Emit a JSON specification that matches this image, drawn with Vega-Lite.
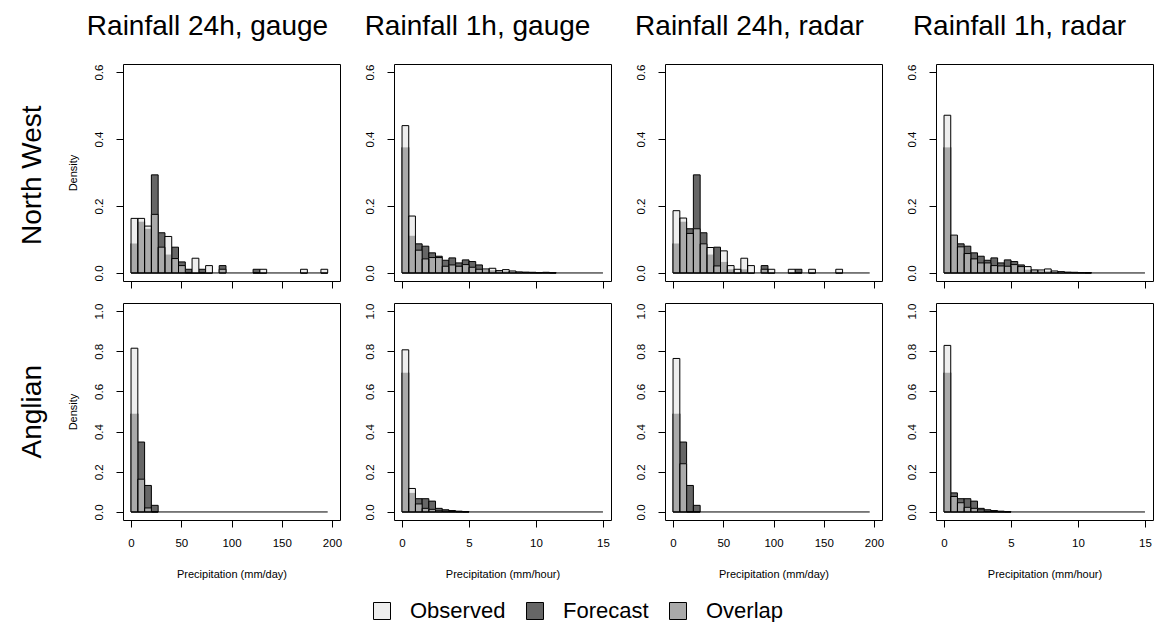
{
"$schema": "https://vega.github.io/schema/vega-lite/v6.json",
"padding": {"left": 18, "top": 12, "right": 2, "bottom": 0},
"datasets": {
"h": [
{"p":"NW24g","x0":0,"x1":6.75,"o":0.163,"f":0.088,"v":0.088},
{"p":"NW24g","x0":6.75,"x1":13.5,"o":0.163,"f":0.153,"v":0.153},
{"p":"NW24g","x0":13.5,"x1":20.25,"o":0.14,"f":0.132,"v":0.132},
{"p":"NW24g","x0":20.25,"x1":27,"o":0.175,"f":0.293,"v":0.175},
{"p":"NW24g","x0":27,"x1":33.75,"o":0.077,"f":0.12,"v":0.077},
{"p":"NW24g","x0":33.75,"x1":40.5,"o":0.109,"f":0.055,"v":0.055},
{"p":"NW24g","x0":40.5,"x1":47.25,"o":0.043,"f":0.077,"v":0.043},
{"p":"NW24g","x0":47.25,"x1":54,"o":0.022,"f":0.033,"v":0.022},
{"p":"NW24g","x0":54,"x1":60.75,"o":0,"f":0.011,"v":0},
{"p":"NW24g","x0":60.75,"x1":67.5,"o":0.044,"f":0,"v":0},
{"p":"NW24g","x0":67.5,"x1":74.25,"o":0,"f":0.011,"v":0},
{"p":"NW24g","x0":74.25,"x1":81,"o":0.022,"f":0,"v":0},
{"p":"NW24g","x0":87.75,"x1":94.5,"o":0.011,"f":0.022,"v":0.011},
{"p":"NW24g","x0":121.5,"x1":128.25,"o":0,"f":0.011,"v":0},
{"p":"NW24g","x0":128.25,"x1":135,"o":0.011,"f":0,"v":0},
{"p":"NW24g","x0":168.75,"x1":175.5,"o":0.011,"f":0,"v":0},
{"p":"NW24g","x0":189,"x1":195.75,"o":0.011,"f":0,"v":0},
{"p":"NW24r","x0":0,"x1":6.75,"o":0.186,"f":0.088,"v":0.088},
{"p":"NW24r","x0":6.75,"x1":13.5,"o":0.164,"f":0.153,"v":0.153},
{"p":"NW24r","x0":13.5,"x1":20.25,"o":0.118,"f":0.132,"v":0.118},
{"p":"NW24r","x0":20.25,"x1":27,"o":0.132,"f":0.293,"v":0.132},
{"p":"NW24r","x0":27,"x1":33.75,"o":0.087,"f":0.12,"v":0.087},
{"p":"NW24r","x0":33.75,"x1":40.5,"o":0.076,"f":0.055,"v":0.055},
{"p":"NW24r","x0":40.5,"x1":47.25,"o":0.021,"f":0.077,"v":0.021},
{"p":"NW24r","x0":47.25,"x1":54,"o":0.066,"f":0.033,"v":0.033},
{"p":"NW24r","x0":54,"x1":60.75,"o":0.022,"f":0.011,"v":0.011},
{"p":"NW24r","x0":60.75,"x1":67.5,"o":0.011,"f":0,"v":0},
{"p":"NW24r","x0":67.5,"x1":74.25,"o":0.044,"f":0.011,"v":0.011},
{"p":"NW24r","x0":74.25,"x1":81,"o":0.022,"f":0,"v":0},
{"p":"NW24r","x0":87.75,"x1":94.5,"o":0.011,"f":0.022,"v":0.011},
{"p":"NW24r","x0":94.5,"x1":101.25,"o":0.011,"f":0,"v":0},
{"p":"NW24r","x0":114.75,"x1":121.5,"o":0.011,"f":0,"v":0},
{"p":"NW24r","x0":121.5,"x1":128.25,"o":0,"f":0.011,"v":0},
{"p":"NW24r","x0":135,"x1":141.75,"o":0.011,"f":0,"v":0},
{"p":"NW24r","x0":162,"x1":168.75,"o":0.011,"f":0,"v":0},
{"p":"NW1g","x0":0,"x1":0.5,"o":0.44,"f":0.375,"v":0.375},
{"p":"NW1g","x0":0.5,"x1":1,"o":0.17,"f":0.111,"v":0.111},
{"p":"NW1g","x0":1,"x1":1.5,"o":0.068,"f":0.087,"v":0.068},
{"p":"NW1g","x0":1.5,"x1":2,"o":0.042,"f":0.08,"v":0.042},
{"p":"NW1g","x0":2,"x1":2.5,"o":0.046,"f":0.06,"v":0.046},
{"p":"NW1g","x0":2.5,"x1":3,"o":0.046,"f":0.05,"v":0.046},
{"p":"NW1g","x0":3,"x1":3.5,"o":0.02,"f":0.038,"v":0.02},
{"p":"NW1g","x0":3.5,"x1":4,"o":0.024,"f":0.045,"v":0.024},
{"p":"NW1g","x0":4,"x1":4.5,"o":0.02,"f":0.03,"v":0.02},
{"p":"NW1g","x0":4.5,"x1":5,"o":0.025,"f":0.039,"v":0.025},
{"p":"NW1g","x0":5,"x1":5.5,"o":0.017,"f":0.034,"v":0.017},
{"p":"NW1g","x0":5.5,"x1":6,"o":0.011,"f":0.024,"v":0.011},
{"p":"NW1g","x0":6,"x1":6.5,"o":0.012,"f":0.01,"v":0.01},
{"p":"NW1g","x0":6.5,"x1":7,"o":0.014,"f":0.008,"v":0.008},
{"p":"NW1g","x0":7,"x1":7.5,"o":0.007,"f":0.006,"v":0.006},
{"p":"NW1g","x0":7.5,"x1":8,"o":0.01,"f":0.005,"v":0.005},
{"p":"NW1g","x0":8,"x1":8.5,"o":0.006,"f":0.004,"v":0.004},
{"p":"NW1g","x0":8.5,"x1":9,"o":0.003,"f":0.002,"v":0.002},
{"p":"NW1g","x0":9,"x1":9.5,"o":0.002,"f":0.002,"v":0.002},
{"p":"NW1g","x0":9.5,"x1":10,"o":0.002,"f":0.001,"v":0.001},
{"p":"NW1g","x0":10,"x1":10.5,"o":0.001,"f":0.001,"v":0.001},
{"p":"NW1g","x0":10.5,"x1":11,"o":0.002,"f":0.001,"v":0.001},
{"p":"NW1g","x0":11,"x1":11.5,"o":0.001,"f":0,"v":0},
{"p":"NW1r","x0":0,"x1":0.5,"o":0.471,"f":0.375,"v":0.375},
{"p":"NW1r","x0":0.5,"x1":1,"o":0.113,"f":0.111,"v":0.111},
{"p":"NW1r","x0":1,"x1":1.5,"o":0.078,"f":0.087,"v":0.078},
{"p":"NW1r","x0":1.5,"x1":2,"o":0.058,"f":0.08,"v":0.058},
{"p":"NW1r","x0":2,"x1":2.5,"o":0.042,"f":0.06,"v":0.042},
{"p":"NW1r","x0":2.5,"x1":3,"o":0.03,"f":0.05,"v":0.03},
{"p":"NW1r","x0":3,"x1":3.5,"o":0.03,"f":0.038,"v":0.03},
{"p":"NW1r","x0":3.5,"x1":4,"o":0.022,"f":0.045,"v":0.022},
{"p":"NW1r","x0":4,"x1":4.5,"o":0.021,"f":0.03,"v":0.021},
{"p":"NW1r","x0":4.5,"x1":5,"o":0.02,"f":0.039,"v":0.02},
{"p":"NW1r","x0":5,"x1":5.5,"o":0.025,"f":0.034,"v":0.025},
{"p":"NW1r","x0":5.5,"x1":6,"o":0.019,"f":0.024,"v":0.019},
{"p":"NW1r","x0":6,"x1":6.5,"o":0.019,"f":0.01,"v":0.01},
{"p":"NW1r","x0":6.5,"x1":7,"o":0.009,"f":0.008,"v":0.008},
{"p":"NW1r","x0":7,"x1":7.5,"o":0.009,"f":0.006,"v":0.006},
{"p":"NW1r","x0":7.5,"x1":8,"o":0.012,"f":0.005,"v":0.005},
{"p":"NW1r","x0":8,"x1":8.5,"o":0.006,"f":0.004,"v":0.004},
{"p":"NW1r","x0":8.5,"x1":9,"o":0.004,"f":0.002,"v":0.002},
{"p":"NW1r","x0":9,"x1":9.5,"o":0.002,"f":0.002,"v":0.002},
{"p":"NW1r","x0":9.5,"x1":10,"o":0.002,"f":0.001,"v":0.001},
{"p":"NW1r","x0":10,"x1":10.5,"o":0.001,"f":0.001,"v":0.001},
{"p":"NW1r","x0":10.5,"x1":11,"o":0,"f":0.001,"v":0},
{"p":"AN24g","x0":0,"x1":6.75,"o":0.815,"f":0.489,"v":0.489},
{"p":"AN24g","x0":6.75,"x1":13.5,"o":0.163,"f":0.348,"v":0.163},
{"p":"AN24g","x0":13.5,"x1":20.25,"o":0.02,"f":0.132,"v":0.02},
{"p":"AN24g","x0":20.25,"x1":27,"o":0,"f":0.033,"v":0},
{"p":"AN24r","x0":0,"x1":6.75,"o":0.764,"f":0.489,"v":0.489},
{"p":"AN24r","x0":6.75,"x1":13.5,"o":0.24,"f":0.348,"v":0.24},
{"p":"AN24r","x0":13.5,"x1":20.25,"o":0,"f":0.132,"v":0},
{"p":"AN24r","x0":20.25,"x1":27,"o":0,"f":0.033,"v":0},
{"p":"AN1g","x0":0,"x1":0.5,"o":0.807,"f":0.693,"v":0.693},
{"p":"AN1g","x0":0.5,"x1":1,"o":0.117,"f":0.095,"v":0.095},
{"p":"AN1g","x0":1,"x1":1.5,"o":0.04,"f":0.066,"v":0.04},
{"p":"AN1g","x0":1.5,"x1":2,"o":0.018,"f":0.066,"v":0.018},
{"p":"AN1g","x0":2,"x1":2.5,"o":0.013,"f":0.054,"v":0.013},
{"p":"AN1g","x0":2.5,"x1":3,"o":0.006,"f":0.018,"v":0.006},
{"p":"AN1g","x0":3,"x1":3.5,"o":0.004,"f":0.011,"v":0.004},
{"p":"AN1g","x0":3.5,"x1":4,"o":0.002,"f":0.007,"v":0.002},
{"p":"AN1g","x0":4,"x1":4.5,"o":0.001,"f":0.004,"v":0.001},
{"p":"AN1g","x0":4.5,"x1":5,"o":0,"f":0.002,"v":0},
{"p":"AN1r","x0":0,"x1":0.5,"o":0.829,"f":0.693,"v":0.693},
{"p":"AN1r","x0":0.5,"x1":1,"o":0.077,"f":0.095,"v":0.077},
{"p":"AN1r","x0":1,"x1":1.5,"o":0.046,"f":0.066,"v":0.046},
{"p":"AN1r","x0":1.5,"x1":2,"o":0.023,"f":0.066,"v":0.023},
{"p":"AN1r","x0":2,"x1":2.5,"o":0.018,"f":0.054,"v":0.018},
{"p":"AN1r","x0":2.5,"x1":3,"o":0.01,"f":0.018,"v":0.01},
{"p":"AN1r","x0":3,"x1":3.5,"o":0.003,"f":0.011,"v":0.003},
{"p":"AN1r","x0":3.5,"x1":4,"o":0.002,"f":0.007,"v":0.002},
{"p":"AN1r","x0":4,"x1":4.5,"o":0.001,"f":0.004,"v":0.001},
{"p":"AN1r","x0":4.5,"x1":5,"o":0,"f":0.002,"v":0}
]
},
"bounds": "full",
"spacing": 13,
"vconcat": [
{
"title": {"text": "North West", "orient": "left", "anchor": "middle", "offset": 20, "dx": -24.5, "fontSize": 28},
"bounds": "flush",
"spacing": 54,
"hconcat": [
{
"width": 217, "height": 217,
"title": {"text": "Rainfall 24h, gauge", "frame": "group", "dx": -24, "offset": 1, "baseline": "alphabetic"},
"data": {"name": "h"},
"transform": [{"filter": "datum.p === 'NW24g'"}],
"encoding": {"x": {"field": "x0", "type": "quantitative", "scale": {"domain": [-8, 208], "nice": false, "zero": false}, "axis": {"values": [0, 50, 100, 150, 200], "labels": false, "title": null}}, "x2": {"field": "x1"}},
"layer": [
{"mark": {"type": "rect", "stroke": "#000", "strokeWidth": 1}, "encoding": {"y": {"field": "f", "type": "quantitative", "scale": {"domain": [-0.024, 0.624], "nice": false, "zero": false}, "axis": {"values": [0, 0.1, 0.2, 0.3, 0.4, 0.5, 0.6], "format": ".1f", "title": "Density"}}, "y2": {"datum": 0}, "fill": {"datum": "Forecast", "type": "nominal", "scale": {"domain": ["Observed", "Forecast", "Overlap"], "range": ["#eeeeee", "#666666", "#aaaaaa"]}, "legend": {"title": null}}}},
{"mark": {"type": "rect", "strokeWidth": 0}, "encoding": {"y": {"field": "o", "type": "quantitative", "axis": {"values": [0, 0.1, 0.2, 0.3, 0.4, 0.5, 0.6], "format": ".1f", "title": "Density"}}, "y2": {"datum": 0}, "fill": {"datum": "Observed", "type": "nominal", "legend": {"title": null}}}},
{"mark": {"type": "rect", "strokeWidth": 0}, "encoding": {"y": {"field": "v", "type": "quantitative", "axis": {"values": [0, 0.1, 0.2, 0.3, 0.4, 0.5, 0.6], "format": ".1f", "title": "Density"}}, "y2": {"datum": 0}, "fill": {"datum": "Overlap", "type": "nominal", "legend": {"title": null}}}},
{"mark": {"type": "rect", "filled": false, "stroke": "#000", "strokeWidth": 1}, "encoding": {"y": {"field": "o", "type": "quantitative", "axis": {"values": [0, 0.1, 0.2, 0.3, 0.4, 0.5, 0.6], "format": ".1f", "title": "Density"}}, "y2": {"datum": 0}}},
{"data": {"values": [{"p": "NW24g", "s": 0, "e": 195.75}]}, "mark": {"type": "rule", "stroke": "#000", "strokeWidth": 1}, "encoding": {"x": {"field": "s", "type": "quantitative", "axis": {"values": [0, 50, 100, 150, 200], "labels": false, "title": null}}, "x2": {"field": "e"}, "y": {"datum": 0}}}
]
},
{
"width": 217, "height": 217,
"title": {"text": "Rainfall 1h, gauge", "frame": "group", "dx": -25, "offset": 1, "baseline": "alphabetic"},
"data": {"name": "h"},
"transform": [{"filter": "datum.p === 'NW1g'"}],
"encoding": {"x": {"field": "x0", "type": "quantitative", "scale": {"domain": [-0.6, 15.6], "nice": false, "zero": false}, "axis": {"values": [0, 5, 10, 15], "labels": false, "title": null}}, "x2": {"field": "x1"}},
"layer": [
{"mark": {"type": "rect", "stroke": "#000", "strokeWidth": 1}, "encoding": {"y": {"field": "f", "type": "quantitative", "scale": {"domain": [-0.024, 0.624], "nice": false, "zero": false}, "axis": {"values": [0, 0.1, 0.2, 0.3, 0.4, 0.5, 0.6], "format": ".1f", "title": null}}, "y2": {"datum": 0}, "fill": {"datum": "Forecast", "type": "nominal", "scale": {"domain": ["Observed", "Forecast", "Overlap"], "range": ["#eeeeee", "#666666", "#aaaaaa"]}, "legend": {"title": null}}}},
{"mark": {"type": "rect", "strokeWidth": 0}, "encoding": {"y": {"field": "o", "type": "quantitative", "axis": {"values": [0, 0.1, 0.2, 0.3, 0.4, 0.5, 0.6], "format": ".1f", "title": null}}, "y2": {"datum": 0}, "fill": {"datum": "Observed", "type": "nominal", "legend": {"title": null}}}},
{"mark": {"type": "rect", "strokeWidth": 0}, "encoding": {"y": {"field": "v", "type": "quantitative", "axis": {"values": [0, 0.1, 0.2, 0.3, 0.4, 0.5, 0.6], "format": ".1f", "title": null}}, "y2": {"datum": 0}, "fill": {"datum": "Overlap", "type": "nominal", "legend": {"title": null}}}},
{"mark": {"type": "rect", "filled": false, "stroke": "#000", "strokeWidth": 1}, "encoding": {"y": {"field": "o", "type": "quantitative", "axis": {"values": [0, 0.1, 0.2, 0.3, 0.4, 0.5, 0.6], "format": ".1f", "title": null}}, "y2": {"datum": 0}}},
{"data": {"values": [{"p": "NW1g", "s": 0, "e": 15}]}, "mark": {"type": "rule", "stroke": "#000", "strokeWidth": 1}, "encoding": {"x": {"field": "s", "type": "quantitative", "axis": {"values": [0, 5, 10, 15], "labels": false, "title": null}}, "x2": {"field": "e"}, "y": {"datum": 0}}}
]
},
{
"width": 217, "height": 217,
"title": {"text": "Rainfall 24h, radar", "frame": "group", "dx": -24, "offset": 1, "baseline": "alphabetic"},
"data": {"name": "h"},
"transform": [{"filter": "datum.p === 'NW24r'"}],
"encoding": {"x": {"field": "x0", "type": "quantitative", "scale": {"domain": [-8, 208], "nice": false, "zero": false}, "axis": {"values": [0, 50, 100, 150, 200], "labels": false, "title": null}}, "x2": {"field": "x1"}},
"layer": [
{"mark": {"type": "rect", "stroke": "#000", "strokeWidth": 1}, "encoding": {"y": {"field": "f", "type": "quantitative", "scale": {"domain": [-0.024, 0.624], "nice": false, "zero": false}, "axis": {"values": [0, 0.1, 0.2, 0.3, 0.4, 0.5, 0.6], "format": ".1f", "title": null}}, "y2": {"datum": 0}, "fill": {"datum": "Forecast", "type": "nominal", "scale": {"domain": ["Observed", "Forecast", "Overlap"], "range": ["#eeeeee", "#666666", "#aaaaaa"]}, "legend": {"title": null}}}},
{"mark": {"type": "rect", "strokeWidth": 0}, "encoding": {"y": {"field": "o", "type": "quantitative", "axis": {"values": [0, 0.1, 0.2, 0.3, 0.4, 0.5, 0.6], "format": ".1f", "title": null}}, "y2": {"datum": 0}, "fill": {"datum": "Observed", "type": "nominal", "legend": {"title": null}}}},
{"mark": {"type": "rect", "strokeWidth": 0}, "encoding": {"y": {"field": "v", "type": "quantitative", "axis": {"values": [0, 0.1, 0.2, 0.3, 0.4, 0.5, 0.6], "format": ".1f", "title": null}}, "y2": {"datum": 0}, "fill": {"datum": "Overlap", "type": "nominal", "legend": {"title": null}}}},
{"mark": {"type": "rect", "filled": false, "stroke": "#000", "strokeWidth": 1}, "encoding": {"y": {"field": "o", "type": "quantitative", "axis": {"values": [0, 0.1, 0.2, 0.3, 0.4, 0.5, 0.6], "format": ".1f", "title": null}}, "y2": {"datum": 0}}},
{"data": {"values": [{"p": "NW24r", "s": 0, "e": 195.75}]}, "mark": {"type": "rule", "stroke": "#000", "strokeWidth": 1}, "encoding": {"x": {"field": "s", "type": "quantitative", "axis": {"values": [0, 50, 100, 150, 200], "labels": false, "title": null}}, "x2": {"field": "e"}, "y": {"datum": 0}}}
]
},
{
"width": 217, "height": 217,
"title": {"text": "Rainfall 1h, radar", "frame": "group", "dx": -25, "offset": 1, "baseline": "alphabetic"},
"data": {"name": "h"},
"transform": [{"filter": "datum.p === 'NW1r'"}],
"encoding": {"x": {"field": "x0", "type": "quantitative", "scale": {"domain": [-0.6, 15.6], "nice": false, "zero": false}, "axis": {"values": [0, 5, 10, 15], "labels": false, "title": null}}, "x2": {"field": "x1"}},
"layer": [
{"mark": {"type": "rect", "stroke": "#000", "strokeWidth": 1}, "encoding": {"y": {"field": "f", "type": "quantitative", "scale": {"domain": [-0.024, 0.624], "nice": false, "zero": false}, "axis": {"values": [0, 0.1, 0.2, 0.3, 0.4, 0.5, 0.6], "format": ".1f", "title": null}}, "y2": {"datum": 0}, "fill": {"datum": "Forecast", "type": "nominal", "scale": {"domain": ["Observed", "Forecast", "Overlap"], "range": ["#eeeeee", "#666666", "#aaaaaa"]}, "legend": {"title": null}}}},
{"mark": {"type": "rect", "strokeWidth": 0}, "encoding": {"y": {"field": "o", "type": "quantitative", "axis": {"values": [0, 0.1, 0.2, 0.3, 0.4, 0.5, 0.6], "format": ".1f", "title": null}}, "y2": {"datum": 0}, "fill": {"datum": "Observed", "type": "nominal", "legend": {"title": null}}}},
{"mark": {"type": "rect", "strokeWidth": 0}, "encoding": {"y": {"field": "v", "type": "quantitative", "axis": {"values": [0, 0.1, 0.2, 0.3, 0.4, 0.5, 0.6], "format": ".1f", "title": null}}, "y2": {"datum": 0}, "fill": {"datum": "Overlap", "type": "nominal", "legend": {"title": null}}}},
{"mark": {"type": "rect", "filled": false, "stroke": "#000", "strokeWidth": 1}, "encoding": {"y": {"field": "o", "type": "quantitative", "axis": {"values": [0, 0.1, 0.2, 0.3, 0.4, 0.5, 0.6], "format": ".1f", "title": null}}, "y2": {"datum": 0}}},
{"data": {"values": [{"p": "NW1r", "s": 0, "e": 15}]}, "mark": {"type": "rule", "stroke": "#000", "strokeWidth": 1}, "encoding": {"x": {"field": "s", "type": "quantitative", "axis": {"values": [0, 5, 10, 15], "labels": false, "title": null}}, "x2": {"field": "e"}, "y": {"datum": 0}}}
]
}
]
},
{
"title": {"text": "Anglian", "orient": "left", "anchor": "middle", "offset": 20, "dx": 29.5, "fontSize": 28},
"bounds": "flush",
"spacing": 54,
"hconcat": [
{
"width": 217, "height": 217,
"data": {"name": "h"},
"transform": [{"filter": "datum.p === 'AN24g'"}],
"encoding": {"x": {"field": "x0", "type": "quantitative", "scale": {"domain": [-8, 208], "nice": false, "zero": false}, "axis": {"values": [0, 50, 100, 150, 200], "title": "Precipitation (mm/day)"}}, "x2": {"field": "x1"}},
"layer": [
{"mark": {"type": "rect", "stroke": "#000", "strokeWidth": 1}, "encoding": {"y": {"field": "f", "type": "quantitative", "scale": {"domain": [-0.04, 1.04], "nice": false, "zero": false}, "axis": {"values": [0, 0.2, 0.4, 0.6, 0.8, 1.0], "format": ".1f", "title": "Density"}}, "y2": {"datum": 0}, "fill": {"datum": "Forecast", "type": "nominal", "scale": {"domain": ["Observed", "Forecast", "Overlap"], "range": ["#eeeeee", "#666666", "#aaaaaa"]}, "legend": {"title": null}}}},
{"mark": {"type": "rect", "strokeWidth": 0}, "encoding": {"y": {"field": "o", "type": "quantitative", "axis": {"values": [0, 0.2, 0.4, 0.6, 0.8, 1.0], "format": ".1f", "title": "Density"}}, "y2": {"datum": 0}, "fill": {"datum": "Observed", "type": "nominal", "legend": {"title": null}}}},
{"mark": {"type": "rect", "strokeWidth": 0}, "encoding": {"y": {"field": "v", "type": "quantitative", "axis": {"values": [0, 0.2, 0.4, 0.6, 0.8, 1.0], "format": ".1f", "title": "Density"}}, "y2": {"datum": 0}, "fill": {"datum": "Overlap", "type": "nominal", "legend": {"title": null}}}},
{"mark": {"type": "rect", "filled": false, "stroke": "#000", "strokeWidth": 1}, "encoding": {"y": {"field": "o", "type": "quantitative", "axis": {"values": [0, 0.2, 0.4, 0.6, 0.8, 1.0], "format": ".1f", "title": "Density"}}, "y2": {"datum": 0}}},
{"data": {"values": [{"p": "AN24g", "s": 0, "e": 195.75}]}, "mark": {"type": "rule", "stroke": "#000", "strokeWidth": 1}, "encoding": {"x": {"field": "s", "type": "quantitative", "axis": {"values": [0, 50, 100, 150, 200], "title": "Precipitation (mm/day)"}}, "x2": {"field": "e"}, "y": {"datum": 0}}}
]
},
{
"width": 217, "height": 217,
"data": {"name": "h"},
"transform": [{"filter": "datum.p === 'AN1g'"}],
"encoding": {"x": {"field": "x0", "type": "quantitative", "scale": {"domain": [-0.6, 15.6], "nice": false, "zero": false}, "axis": {"values": [0, 5, 10, 15], "title": "Precipitation (mm/hour)"}}, "x2": {"field": "x1"}},
"layer": [
{"mark": {"type": "rect", "stroke": "#000", "strokeWidth": 1}, "encoding": {"y": {"field": "f", "type": "quantitative", "scale": {"domain": [-0.04, 1.04], "nice": false, "zero": false}, "axis": {"values": [0, 0.2, 0.4, 0.6, 0.8, 1.0], "format": ".1f", "title": null}}, "y2": {"datum": 0}, "fill": {"datum": "Forecast", "type": "nominal", "scale": {"domain": ["Observed", "Forecast", "Overlap"], "range": ["#eeeeee", "#666666", "#aaaaaa"]}, "legend": {"title": null}}}},
{"mark": {"type": "rect", "strokeWidth": 0}, "encoding": {"y": {"field": "o", "type": "quantitative", "axis": {"values": [0, 0.2, 0.4, 0.6, 0.8, 1.0], "format": ".1f", "title": null}}, "y2": {"datum": 0}, "fill": {"datum": "Observed", "type": "nominal", "legend": {"title": null}}}},
{"mark": {"type": "rect", "strokeWidth": 0}, "encoding": {"y": {"field": "v", "type": "quantitative", "axis": {"values": [0, 0.2, 0.4, 0.6, 0.8, 1.0], "format": ".1f", "title": null}}, "y2": {"datum": 0}, "fill": {"datum": "Overlap", "type": "nominal", "legend": {"title": null}}}},
{"mark": {"type": "rect", "filled": false, "stroke": "#000", "strokeWidth": 1}, "encoding": {"y": {"field": "o", "type": "quantitative", "axis": {"values": [0, 0.2, 0.4, 0.6, 0.8, 1.0], "format": ".1f", "title": null}}, "y2": {"datum": 0}}},
{"data": {"values": [{"p": "AN1g", "s": 0, "e": 15}]}, "mark": {"type": "rule", "stroke": "#000", "strokeWidth": 1}, "encoding": {"x": {"field": "s", "type": "quantitative", "axis": {"values": [0, 5, 10, 15], "title": "Precipitation (mm/hour)"}}, "x2": {"field": "e"}, "y": {"datum": 0}}}
]
},
{
"width": 217, "height": 217,
"data": {"name": "h"},
"transform": [{"filter": "datum.p === 'AN24r'"}],
"encoding": {"x": {"field": "x0", "type": "quantitative", "scale": {"domain": [-8, 208], "nice": false, "zero": false}, "axis": {"values": [0, 50, 100, 150, 200], "title": "Precipitation (mm/day)"}}, "x2": {"field": "x1"}},
"layer": [
{"mark": {"type": "rect", "stroke": "#000", "strokeWidth": 1}, "encoding": {"y": {"field": "f", "type": "quantitative", "scale": {"domain": [-0.04, 1.04], "nice": false, "zero": false}, "axis": {"values": [0, 0.2, 0.4, 0.6, 0.8, 1.0], "format": ".1f", "title": null}}, "y2": {"datum": 0}, "fill": {"datum": "Forecast", "type": "nominal", "scale": {"domain": ["Observed", "Forecast", "Overlap"], "range": ["#eeeeee", "#666666", "#aaaaaa"]}, "legend": {"title": null}}}},
{"mark": {"type": "rect", "strokeWidth": 0}, "encoding": {"y": {"field": "o", "type": "quantitative", "axis": {"values": [0, 0.2, 0.4, 0.6, 0.8, 1.0], "format": ".1f", "title": null}}, "y2": {"datum": 0}, "fill": {"datum": "Observed", "type": "nominal", "legend": {"title": null}}}},
{"mark": {"type": "rect", "strokeWidth": 0}, "encoding": {"y": {"field": "v", "type": "quantitative", "axis": {"values": [0, 0.2, 0.4, 0.6, 0.8, 1.0], "format": ".1f", "title": null}}, "y2": {"datum": 0}, "fill": {"datum": "Overlap", "type": "nominal", "legend": {"title": null}}}},
{"mark": {"type": "rect", "filled": false, "stroke": "#000", "strokeWidth": 1}, "encoding": {"y": {"field": "o", "type": "quantitative", "axis": {"values": [0, 0.2, 0.4, 0.6, 0.8, 1.0], "format": ".1f", "title": null}}, "y2": {"datum": 0}}},
{"data": {"values": [{"p": "AN24r", "s": 0, "e": 195.75}]}, "mark": {"type": "rule", "stroke": "#000", "strokeWidth": 1}, "encoding": {"x": {"field": "s", "type": "quantitative", "axis": {"values": [0, 50, 100, 150, 200], "title": "Precipitation (mm/day)"}}, "x2": {"field": "e"}, "y": {"datum": 0}}}
]
},
{
"width": 217, "height": 217,
"data": {"name": "h"},
"transform": [{"filter": "datum.p === 'AN1r'"}],
"encoding": {"x": {"field": "x0", "type": "quantitative", "scale": {"domain": [-0.6, 15.6], "nice": false, "zero": false}, "axis": {"values": [0, 5, 10, 15], "title": "Precipitation (mm/hour)"}}, "x2": {"field": "x1"}},
"layer": [
{"mark": {"type": "rect", "stroke": "#000", "strokeWidth": 1}, "encoding": {"y": {"field": "f", "type": "quantitative", "scale": {"domain": [-0.04, 1.04], "nice": false, "zero": false}, "axis": {"values": [0, 0.2, 0.4, 0.6, 0.8, 1.0], "format": ".1f", "title": null}}, "y2": {"datum": 0}, "fill": {"datum": "Forecast", "type": "nominal", "scale": {"domain": ["Observed", "Forecast", "Overlap"], "range": ["#eeeeee", "#666666", "#aaaaaa"]}, "legend": {"title": null}}}},
{"mark": {"type": "rect", "strokeWidth": 0}, "encoding": {"y": {"field": "o", "type": "quantitative", "axis": {"values": [0, 0.2, 0.4, 0.6, 0.8, 1.0], "format": ".1f", "title": null}}, "y2": {"datum": 0}, "fill": {"datum": "Observed", "type": "nominal", "legend": {"title": null}}}},
{"mark": {"type": "rect", "strokeWidth": 0}, "encoding": {"y": {"field": "v", "type": "quantitative", "axis": {"values": [0, 0.2, 0.4, 0.6, 0.8, 1.0], "format": ".1f", "title": null}}, "y2": {"datum": 0}, "fill": {"datum": "Overlap", "type": "nominal", "legend": {"title": null}}}},
{"mark": {"type": "rect", "filled": false, "stroke": "#000", "strokeWidth": 1}, "encoding": {"y": {"field": "o", "type": "quantitative", "axis": {"values": [0, 0.2, 0.4, 0.6, 0.8, 1.0], "format": ".1f", "title": null}}, "y2": {"datum": 0}}},
{"data": {"values": [{"p": "AN1r", "s": 0, "e": 15}]}, "mark": {"type": "rule", "stroke": "#000", "strokeWidth": 1}, "encoding": {"x": {"field": "s", "type": "quantitative", "axis": {"values": [0, 5, 10, 15], "title": "Precipitation (mm/hour)"}}, "x2": {"field": "e"}, "y": {"datum": 0}}}
]
}
]
}
],
"config": {
"font": "Liberation Sans",
"view": {"stroke": "#000", "strokeWidth": 1},
"axis": {"domain": false, "grid": false, "tickSize": 7, "tickColor": "#000", "tickWidth": 1, "labelColor": "#000", "labelFontSize": 11.5, "labelFont": "Liberation Sans", "titleFont": "Liberation Sans", "titleColor": "#000", "titleFontWeight": "normal", "titleFontSize": 11},
"axisX": {"labelPadding": 10, "titlePadding": 20, "labelAngle": 0},
"axisY": {"labelAngle": -90, "labelAlign": "center", "labelBaseline": "bottom", "labelPadding": 12, "titlePadding": 15},
"title": {"fontSize": 28, "fontWeight": "normal", "color": "#000", "font": "Liberation Sans"},
"legend": {"orient": "none", "legendX": 248, "legendY": 536, "direction": "horizontal", "symbolType": "square", "symbolSize": 289, "symbolStrokeColor": "#000", "symbolStrokeWidth": 1, "symbolOpacity": 1, "labelFontSize": 22, "labelFont": "Liberation Sans", "labelColor": "#000", "labelOffset": 17, "columnPadding": 18}
}
}
